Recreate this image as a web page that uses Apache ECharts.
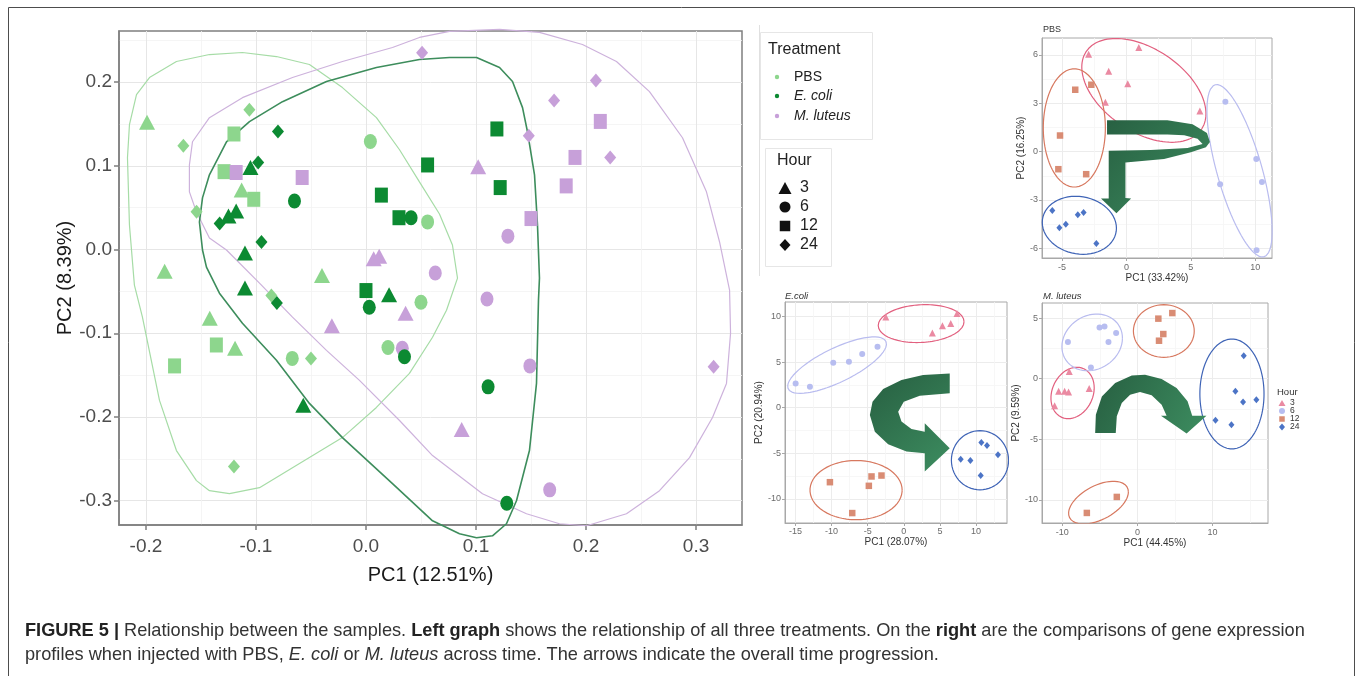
<!DOCTYPE html>
<html><head><meta charset="utf-8">
<script src="https://cdn.jsdelivr.net/npm/echarts@6/dist/echarts.min.js"></script>
<style>html,body{margin:0;padding:0;background:#fff;}#c{width:1357px;height:676px;}</style>
</head><body><div id="c"></div>
<script>
// ===== Main PCA (PC1, PC2) by treatment and hour =====
const PBS_3  = [[-0.199,0.152],[-0.113,0.071],[-0.183,-0.026],[-0.040,-0.031],[-0.142,-0.082],[-0.119,-0.118]];
const PBS_6  = [[0.004,0.129],[0.056,0.033],[0.050,-0.063],[-0.067,-0.130],[0.020,-0.117]];
const PBS_12 = [[-0.120,0.138],[-0.129,0.093],[-0.102,0.060],[-0.136,-0.114],[-0.174,-0.139]];
const PBS_24 = [[-0.166,0.124],[-0.106,0.167],[-0.154,0.045],[-0.086,-0.055],[-0.050,-0.130],[-0.120,-0.259]];
const ECOLI_3  = [[-0.105,0.098],[-0.125,0.040],[-0.118,0.046],[-0.110,-0.004],[-0.110,-0.046],[0.021,-0.054],[-0.057,-0.186]];
const ECOLI_6  = [[-0.065,0.058],[0.041,0.038],[0.003,-0.069],[0.035,-0.128],[0.111,-0.164],[0.128,-0.303]];
const ECOLI_12 = [[0.119,0.144],[0.056,0.101],[0.122,0.074],[0.014,0.065],[0.030,0.038],[0.000,-0.049]];
const ECOLI_24 = [[-0.080,0.141],[-0.098,0.104],[-0.133,0.031],[-0.095,0.009],[-0.081,-0.064]];
const MLUT_3  = [[0.007,-0.011],[0.012,-0.008],[0.102,0.099],[0.036,-0.076],[-0.031,-0.091],[0.087,-0.215]];
const MLUT_6  = [[0.129,0.016],[0.063,-0.028],[0.110,-0.059],[0.033,-0.118],[0.149,-0.139],[0.167,-0.287]];
const MLUT_12 = [[-0.118,0.092],[-0.058,0.086],[0.213,0.153],[0.190,0.110],[0.182,0.076],[0.150,0.037]];
const MLUT_24 = [[0.051,0.235],[0.209,0.202],[0.171,0.178],[0.148,0.136],[0.222,0.110],[0.316,-0.140]];

// group outlines (data units)
const HULL_PBS = [[-0.2168,0.1096],[-0.2150,0.1491],[-0.2086,0.1850],[-0.1968,0.2054],[-0.1723,0.2246],[-0.1423,0.2329],[-0.1123,0.2353],[-0.0814,0.2305],[-0.0514,0.2210],[-0.0214,0.1934],[0.0095,0.1575],[0.0305,0.1192],[0.0486,0.0808],[0.0668,0.0425],[0.0786,0.0054],[0.0832,-0.0341],[0.0732,-0.0725],[0.0605,-0.1048],[0.0395,-0.1479],[0.0095,-0.1886],[-0.0214,-0.2246],[-0.0668,-0.2605],[-0.0968,-0.2844],[-0.1241,-0.2916],[-0.1423,-0.2880],[-0.1541,-0.2760],[-0.1723,-0.2401],[-0.1877,-0.1802],[-0.2032,-0.0808],[-0.2105,-0.0425],[-0.2150,0.0293],[-0.2168,0.1096]];
const HULL_ECOLI = [[-0.1514,0.0329],[-0.1486,0.0617],[-0.1423,0.0892],[-0.1268,0.1287],[-0.1059,0.1527],[-0.0759,0.1766],[-0.0359,0.2006],[0.0095,0.2174],[0.0486,0.2269],[0.0759,0.2293],[0.1005,0.2293],[0.1214,0.2174],[0.1332,0.2006],[0.1423,0.1695],[0.1468,0.1407],[0.1532,0.0892],[0.1559,0.0293],[0.1577,-0.0341],[0.1568,-0.0605],[0.1550,-0.1599],[0.1486,-0.2401],[0.1368,-0.3000],[0.1277,-0.3275],[0.1150,-0.3419],[0.1005,-0.3443],[0.0850,-0.3395],[0.0605,-0.3240],[0.0241,-0.2796],[-0.0214,-0.2246],[-0.0514,-0.1838],[-0.0814,-0.1323],[-0.1123,-0.0880],[-0.1332,-0.0521],[-0.1450,-0.0210],[-0.1486,-0.0006],[-0.1514,0.0329]];
const HULL_MLUT = [[-0.1268,-0.0006],[-0.1423,0.0138],[-0.1541,0.0449],[-0.1605,0.0689],[-0.1605,0.1012],[-0.1577,0.1287],[-0.1423,0.1575],[-0.1123,0.1814],[-0.0668,0.2054],[-0.0214,0.2246],[0.0241,0.2413],[0.0486,0.2533],[0.0759,0.2605],[0.1214,0.2629],[0.1577,0.2593],[0.1968,0.2449],[0.2277,0.2246],[0.2577,0.1886],[0.2877,0.1335],[0.3095,0.0689],[0.3214,0.0090],[0.3305,-0.0485],[0.3314,-0.1000],[0.3277,-0.1599],[0.3150,-0.2006],[0.2941,-0.2485],[0.2668,-0.2880],[0.2368,-0.3156],[0.2005,-0.3299],[0.1759,-0.3275],[0.1459,-0.3156],[0.1059,-0.2916],[0.0605,-0.2461],[0.0305,-0.2042],[-0.0059,-0.1563],[-0.0359,-0.1204],[-0.0668,-0.0808],[-0.0968,-0.0401],[-0.1268,-0.0006]];

const MAIN_X_TICKS = [-0.2,-0.1,0.0,0.1,0.2,0.3];
const MAIN_Y_TICKS = [-0.3,-0.2,-0.1,0.0,0.1,0.2];
const MAIN_X_MINOR = [-0.15,-0.05,0.05,0.15,0.25];
const MAIN_Y_MINOR = [-0.25,-0.15,-0.05,0.05,0.15,0.25];

// ===== Per-treatment PCA panels =====
const PBS_P_3  = [[-2.94,6.04],[0.96,6.46],[-1.38,4.99],[0.10,4.21],[-1.64,3.06],[5.70,2.52]];
const PBS_P_6  = [[7.68,3.10],[10.08,-0.46],[10.52,-1.89],[7.27,-2.03],[10.10,-6.12]];
const PBS_P_12 = [[-3.98,3.84],[-2.73,4.15],[-5.16,1.00],[-5.29,-1.09],[-3.13,-1.40]];
const PBS_P_24 = [[-5.76,-3.65],[-5.21,-4.72],[-4.71,-4.51],[-3.78,-3.92],[-3.33,-3.77],[-2.34,-5.70]];
const ECO_P_3  = [[-2.49,9.96],[3.96,8.21],[5.35,8.98],[6.50,9.23],[7.37,10.33]];
const ECO_P_6  = [[-14.98,2.66],[-13.0,2.30],[-9.77,4.93],[-7.60,5.04],[-5.76,5.88],[-3.64,6.68]];
const ECO_P_12 = [[-10.23,-8.18],[-7.14,-11.57],[-4.84,-8.58],[-4.47,-7.55],[-3.09,-7.45]];
const ECO_P_24 = [[7.88,-5.66],[9.22,-5.80],[10.74,-3.83],[11.52,-4.16],[10.65,-7.45],[13.04,-5.18]];
const MLU_P_3  = [[-9.07,0.60],[-10.49,-1.04],[-9.69,-1.04],[-9.16,-1.10],[-11.02,-2.23],[-6.42,-0.82]];
const MLU_P_6  = [[-9.25,3.02],[-5.04,4.23],[-4.38,4.31],[-3.85,3.02],[-2.83,3.76],[-6.19,0.93]];
const MLU_P_12 = [[2.79,4.95],[4.65,5.41],[3.45,3.68],[2.88,3.13],[-2.74,-9.75],[-6.73,-11.07]];
const MLU_P_24 = [[14.16,1.90],[13.05,-1.04],[14.07,-1.92],[15.84,-1.73],[10.40,-3.43],[12.52,-3.79]];

// ellipses: [centre x, centre y, half width, half height, tilt]
const PBS_ELL = {h3:[1.35,3.80,4.82,3.22,-0.45], h6:[8.78,-1.19,2.53,5.35,-0.7], h12:[-4.05,1.47,2.41,3.67,0.0], h24:[-3.66,-4.57,2.88,1.80,-0.1]};
const ECO_ELL = {h3:[2.40,9.23,5.94,2.08,0.1], h6:[-9.24,4.67,6.84,3.10,0.75], h12:[-6.61,-9.05,6.38,3.25,0.0], h24:[10.55,-5.77,3.96,3.25,0.0]};
const MLU_ELL = {h3:[-8.63,-1.18,2.88,2.12,0.2], h6:[-6.02,2.99,4.03,2.34,0.15], h12:[3.52,3.93,4.05,2.17,0.0], h12b:[-5.18,-10.22,3.98,1.76,0.5], h24:[12.59,-1.26,4.27,4.53,0.0]};

// time-progression arrows (outline in data units of each panel)
const ARROW_PBS = [[-1.51,1.95],[3.18,1.95],[5.13,1.70],[6.25,1.15],[6.48,0.59],[6.17,0.27],[5.00,-0.04],[2.92,-0.46],[-0.08,-0.67],[-0.08,-2.87],[0.36,-2.91],[-0.78,-3.82],[-1.98,-2.91],[-1.38,-2.91],[-1.38,0.06],[1.88,0.10],[4.74,0.23],[5.91,0.48],[5.52,0.80],[4.48,1.01],[3.18,1.07],[-1.51,1.07]];
const ARROW_ECO = [[6.36,3.76],[2.67,3.58],[-0.32,3.03],[-2.86,2.04],[-4.33,0.66],[-4.70,-0.80],[-4.01,-2.63],[-2.17,-4.01],[0.37,-4.82],[2.90,-5.00],[2.90,-7.01],[6.36,-4.45],[2.90,-1.72],[2.90,-2.63],[1.06,-2.34],[-0.32,-1.53],[-0.78,-0.44],[0.00,0.66],[2.21,1.31],[6.36,1.57]];
const ARROW_MLU = [[-5.62,-4.48],[-5.53,-2.97],[-4.73,-1.46],[-2.96,-0.36],[-0.75,0.27],[1.02,0.33],[3.23,-0.03],[5.22,-0.77],[6.68,-1.87],[7.30,-3.05],[9.20,-3.05],[6.55,-4.53],[3.14,-3.05],[3.89,-3.05],[3.23,-2.14],[1.90,-1.37],[0.35,-1.10],[-0.97,-1.32],[-2.08,-2.01],[-2.74,-3.10],[-2.88,-4.48]];

const PBS_X_TICKS=[-5,0,5,10], PBS_Y_TICKS=[-6,-3,0,3,6], PBS_X_MINOR=[-2.5,2.5,7.5], PBS_Y_MINOR=[-4.5,-1.5,1.5,4.5];
const ECO_X_TICKS=[-15,-10,-5,0,5,10], ECO_Y_TICKS=[-10,-5,0,5,10], ECO_X_MINOR=[-12.5,-7.5,-2.5,2.5,7.5,12.5], ECO_Y_MINOR=[-7.5,-2.5,2.5,7.5];
const MLU_X_TICKS=[-10,0,10], MLU_Y_TICKS=[-10,-5,0,5], MLU_X_MINOR=[-5,5,15], MLU_Y_MINOR=[-7.5,-2.5,2.5];

const TREATMENTS = ['PBS','E. coli','M. luteus'];
const HOURS = ['3','6','12','24'];

// ===== styling =====
const FONT = '"Liberation Sans", Arial, Helvetica, sans-serif';
const T_COL = {PBS:'#8dd68d', ECOLI:'#0c8a32', MLUT:'#c7a0d9'};
const HULL_COL = {PBS:'#a6dca6', ECOLI:'#3d8d5c', MLUT:'#cdb2dc'};
const H_PT = {h3:'#ea8aa2', h6:'#b7bdf0', h12:'#d98c74', h24:'#4c74c6'};
const H_EL = {h3:'#e2607f', h6:'#b9bcef', h12:'#d7785f', h24:'#3f64b6', h12b:'#d7785f'};
const SYM = {h3:'triangle', h6:'circle', h12:'rect', h24:'diamond'};
const MAIN_SIZE = {h3:[16,15], h6:[13,15], h12:[13,15], h24:[12,14]};
const SMALL_SIZE = {h3:[7,7], h6:[6,6], h12:[6.5,6.5], h24:[6,7]};

function ellipse(e){
  const [cx,cy,hw,hh,r]=e, s=Math.sqrt(1-r*r), pts=[];
  for(let i=0;i<=120;i++){const t=2*Math.PI*i/120; pts.push([cx+hw*Math.cos(t), cy+hh*(r*Math.cos(t)+s*Math.sin(t))]);}
  return pts;
}

const grids = [
  {left:119, top:31, width:623, height:494, show:true, borderColor:'#7f7f7f', borderWidth:1.5, backgroundColor:'rgba(0,0,0,0)', containLabel:false, outerBoundsMode:'none'},
  {left:1042, top:38, width:230, height:220, show:true, borderColor:'#a8a8a8', borderWidth:1, backgroundColor:'rgba(0,0,0,0)', containLabel:false, outerBoundsMode:'none'},
  {left:785, top:302, width:222, height:221, show:true, borderColor:'#a8a8a8', borderWidth:1, backgroundColor:'rgba(0,0,0,0)', containLabel:false, outerBoundsMode:'none'},
  {left:1042, top:303, width:226, height:220, show:true, borderColor:'#a8a8a8', borderWidth:1, backgroundColor:'rgba(0,0,0,0)', containLabel:false, outerBoundsMode:'none'}
];

function axis(dim, g, min, max, ticks, fmt, o){
  return {type:'value', gridIndex:g, min, max, position: dim==='x'?'bottom':'left',
    axisLine:{show:true, onZero:false, lineStyle:{color:o.lc, width:o.lw}},
    axisTick:{show:true, inside:false, length:o.tl, customValues:ticks, lineStyle:{color:o.lc, width:o.lw}},
    axisLabel:{show:true, customValues:ticks, formatter:fmt, fontSize:o.fs, color:o.fc, fontFamily:FONT, margin:o.lm},
    splitLine:{show:true, lineStyle:{color:o.gc, width:1}},
    name:o.name, nameLocation:'middle', nameGap:o.ng,
    nameTextStyle:{fontSize:o.ns, color:o.nc, fontFamily:FONT}};
}
function minorAxis(dim, g, min, max, minor, col){
  return {type:'value', gridIndex:g, min, max, position: dim==='x'?'top':'right',
    axisLine:{show:false}, axisTick:{show:false, customValues:minor}, axisLabel:{show:false, customValues:minor},
    splitLine:{show:true, lineStyle:{color:col, width:0.8}}};
}
const f1 = v => v.toFixed(1);
const f0 = v => String(Math.round(v));
const MO = {lc:'#7f7f7f', lw:1.5, tl:5, fs:19, fc:'#4d4d4d', gc:'#e6e6e6', ns:20, nc:'#1a1a1a'};
const SO = {lc:'#a8a8a8', lw:1, tl:3, fs:9, fc:'#6b6b6b', gc:'#ececec', ns:10, nc:'#333'};

const xAxes = [
  axis('x',0,-0.2245,0.3418,MAIN_X_TICKS,f1,Object.assign({},MO,{lm:12,ng:40,name:'PC1 (12.51%)'})),
  axis('x',1,-6.56,11.3,PBS_X_TICKS,f0,Object.assign({},SO,{lm:5,ng:14,name:'PC1 (33.42%)'})),
  axis('x',2,-16.45,14.29,ECO_X_TICKS,f0,Object.assign({},SO,{lm:4,ng:14,name:'PC1 (28.07%)'})),
  axis('x',3,-12.7,17.39,MLU_X_TICKS,f0,Object.assign({},SO,{lm:5,ng:15,name:'PC1 (44.45%)'})),
  minorAxis('x',0,-0.2245,0.3418,MAIN_X_MINOR,'#f3f3f3'),
  minorAxis('x',1,-6.56,11.3,PBS_X_MINOR,'#f5f5f5'),
  minorAxis('x',2,-16.45,14.29,ECO_X_MINOR,'#f5f5f5'),
  minorAxis('x',3,-12.7,17.39,MLU_X_MINOR,'#f5f5f5')
];
const yAxes = [
  axis('y',0,-0.329,0.261,MAIN_Y_TICKS,f1,Object.assign({},MO,{lm:7,ng:41,name:'PC2 (8.39%)'})),
  axis('y',1,-6.6,7.05,PBS_Y_TICKS,f0,Object.assign({},SO,{lm:4,ng:13,name:'PC2 (16.25%)'})),
  axis('y',2,-12.66,11.6,ECO_Y_TICKS,f0,Object.assign({},SO,{lm:4,ng:14,name:'PC2 (20.94%)'})),
  axis('y',3,-11.9,6.24,MLU_Y_TICKS,f0,Object.assign({},SO,{lm:4,ng:14,name:'PC2 (9.59%)'})),
  minorAxis('y',0,-0.329,0.261,MAIN_Y_MINOR,'#f3f3f3'),
  minorAxis('y',1,-6.6,7.05,PBS_Y_MINOR,'#f5f5f5'),
  minorAxis('y',2,-12.66,11.6,ECO_Y_MINOR,'#f5f5f5'),
  minorAxis('y',3,-11.9,6.24,MLU_Y_MINOR,'#f5f5f5')
];

const series = [];
function lineS(idx, data, color, width, clip){
  series.push({type:'line', xAxisIndex:idx, yAxisIndex:idx, data, showSymbol:false, symbol:'none', smooth:false,
    clip:clip, silent:true, z:1, lineStyle:{color, width}});
}
function scat(idx, data, h, color, size, z){
  series.push({type:'scatter', xAxisIndex:idx, yAxisIndex:idx, data, symbol:SYM[h], symbolSize:size[h],
    itemStyle:{color, opacity:1, borderWidth:0}, silent:true, z:z||3});
}
function arrow(idx, pts){
  series.push({type:'custom', xAxisIndex:idx, yAxisIndex:idx, data:[[0,0]], silent:true, clip:false, z:5,
    renderItem:(p, api)=>({type:'polygon', shape:{points:pts.map(q=>api.coord(q))},
      style:{fill:new echarts.graphic.LinearGradient(0,0,1,1,[{offset:0,color:'#275f41'},{offset:1,color:'#3d8d60'}])}})});
}

// main
lineS(0, HULL_PBS, HULL_COL.PBS, 1.2, false);
lineS(0, HULL_MLUT, HULL_COL.MLUT, 1.2, false);
lineS(0, HULL_ECOLI, HULL_COL.ECOLI, 1.6, false);
[['h3',PBS_3],['h6',PBS_6],['h12',PBS_12],['h24',PBS_24]].forEach(([h,d])=>scat(0,d,h,T_COL.PBS,MAIN_SIZE,3));
[['h3',MLUT_3],['h6',MLUT_6],['h12',MLUT_12],['h24',MLUT_24]].forEach(([h,d])=>scat(0,d,h,T_COL.MLUT,MAIN_SIZE,3));
[['h3',ECOLI_3],['h6',ECOLI_6],['h12',ECOLI_12],['h24',ECOLI_24]].forEach(([h,d])=>scat(0,d,h,T_COL.ECOLI,MAIN_SIZE,4));

// small panels
const panels = [
  [1, PBS_ELL, {h3:PBS_P_3,h6:PBS_P_6,h12:PBS_P_12,h24:PBS_P_24}, ARROW_PBS],
  [2, ECO_ELL, {h3:ECO_P_3,h6:ECO_P_6,h12:ECO_P_12,h24:ECO_P_24}, ARROW_ECO],
  [3, MLU_ELL, {h3:MLU_P_3,h6:MLU_P_6,h12:MLU_P_12,h24:MLU_P_24}, ARROW_MLU]
];
panels.forEach(([idx, ells, pts, arr])=>{
  Object.keys(ells).forEach(k=>lineS(idx, ellipse(ells[k]), H_EL[k], 1.2, true));
  Object.keys(pts).forEach(h=>scat(idx, pts[h], h, H_PT[h], SMALL_SIZE, 3));
  arrow(idx, arr);
});

// ===== graphics: legends, titles, caption, frame =====
const txt = (x,y,text,size,opt)=>Object.assign({type:'text', x, y, silent:true,
  style:Object.assign({text, fontSize:size, fontFamily:FONT, fill:'#222', textAlign:'left', textVerticalAlign:'middle'}, opt||{})});
const tri = (cx,cy,w,h,fill)=>({type:'polygon', silent:true, shape:{points:[[cx,cy-h/2],[cx+w/2,cy+h/2],[cx-w/2,cy+h/2]]}, style:{fill}});
const dia = (cx,cy,w,h,fill)=>({type:'polygon', silent:true, shape:{points:[[cx,cy-h/2],[cx+w/2,cy],[cx,cy+h/2],[cx-w/2,cy]]}, style:{fill}});
const circ = (cx,cy,r,fill)=>({type:'circle', silent:true, shape:{cx,cy,r}, style:{fill}});
const sq = (cx,cy,s,fill)=>({type:'rect', silent:true, shape:{x:cx-s/2,y:cy-s/2,width:s,height:s}, style:{fill}});

const graphics = [
  {type:'rect', silent:true, z:-10, shape:{x:8.5,y:7.5,width:1346,height:700}, style:{fill:'none', stroke:'#4d4d4d', lineWidth:1}},
  {type:'line', silent:true, shape:{x1:759.5,y1:25,x2:759.5,y2:276}, style:{stroke:'#e0e0e0', lineWidth:1}},
  {type:'rect', silent:true, shape:{x:760.5,y:32.5,width:112,height:107}, style:{fill:'#fff', stroke:'#e6e6e6', lineWidth:1}},
  txt(768,50,'Treatment',16),
  circ(777,77,2.2,T_COL.PBS), circ(777,96,2.2,T_COL.ECOLI), circ(777,116,2.2,T_COL.MLUT),
  txt(794,77,TREATMENTS[0],14),
  txt(794,96,TREATMENTS[1],14,{fontStyle:'italic'}),
  txt(794,116,TREATMENTS[2],14,{fontStyle:'italic'}),
  {type:'rect', silent:true, shape:{x:765.5,y:148.5,width:66,height:118}, style:{fill:'#fff', stroke:'#e6e6e6', lineWidth:1}},
  txt(777,161,'Hour',16),
  tri(785,188,13,12,'#111'), circ(785,207,5.5,'#111'), sq(785,226,10.5,'#111'), dia(785,245,11,12,'#111'),
  txt(800,188,HOURS[0],16), txt(800,207,HOURS[1],16), txt(800,226,HOURS[2],16), txt(800,245,HOURS[3],16),
  // panel titles
  txt(1043,30,'PBS',9,{fill:'#333'}),
  txt(785,296,'E.coli',9.5,{fill:'#333', fontStyle:'italic'}),
  txt(1043,296,'M. luteus',9.5,{fill:'#333', fontStyle:'italic'}),
  // small Hour legend
  txt(1277,392,'Hour',9.5,{fill:'#333'}),
  tri(1282,403,7,6,H_PT.h3), circ(1282,411,3,H_PT.h6), sq(1282,419,5.5,H_PT.h12), dia(1282,427,6,7,H_PT.h24),
  txt(1290,403,HOURS[0],8.5,{fill:'#333'}), txt(1290,411,HOURS[1],8.5,{fill:'#333'}), txt(1290,419,HOURS[2],8.5,{fill:'#333'}), txt(1290,427,HOURS[3],8.5,{fill:'#333'}),
];
const CF = 18.2;
const R = {n:{fontSize:CF,fontFamily:FONT,fill:'#333'}, b:{fontSize:CF,fontFamily:FONT,fontWeight:'bold',fill:'#222'}, i:{fontSize:CF,fontFamily:FONT,fontStyle:'italic',fill:'#333'}};
graphics.push({type:'text', x:25, y:631, silent:true, style:{text:'{b|FIGURE 5 |}{n| Relationship between the samples. }{b|Left graph}{n| shows the relationship of all three treatments. On the }{b|right}{n| are the comparisons of gene expression}', rich:R, fontSize:CF, fontFamily:FONT, fill:'#333', textVerticalAlign:'middle'}});
graphics.push({type:'text', x:25, y:655, silent:true, style:{text:'{n|profiles when injected with PBS, }{i|E. coli}{n| or }{i|M. luteus}{n| across time. The arrows indicate the overall time progression.}', rich:R, fontSize:CF, fontFamily:FONT, fill:'#333', textVerticalAlign:'middle'}});

const chart = echarts.init(document.getElementById('c'), null, {renderer:'canvas', width:1357, height:676});
chart.setOption({
  animation:false,
  backgroundColor:'#ffffff',
  textStyle:{fontFamily:FONT},
  grid:grids, xAxis:xAxes, yAxis:yAxes, series,
  graphic:{elements:graphics}
});
</script>
</body></html>
